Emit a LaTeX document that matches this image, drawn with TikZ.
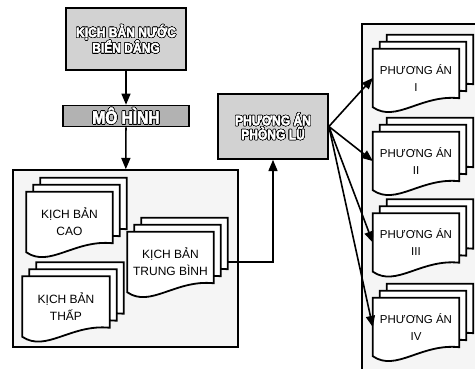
\documentclass[tikz,border=0pt]{standalone}
\usepackage{fontspec}
\setmainfont{Liberation Sans}
\newfontfamily\heavyfont[FakeBold=3,FakeStretch=0.86]{Liberation Sans Bold}
\usepackage{contour}
\contourlength{0.55pt}
\contournumber{24}
\usetikzlibrary{arrows}
\usetikzlibrary{calc,arrows.meta}
\pgfdeclarelayer{panel}
\pgfdeclarelayer{docs}
\pgfsetlayers{panel,docs,main}
% document outline, shifted up-right by #2
\newcommand{\docpath}[2]{($(#1.north west)+(#2,-#2)$) -- ($(#1.north east)+(#2,-#2)$) -- ($(#1.south east)+(#2,-#2-9)$) .. controls ($(#1.south)+(#2+5,-#2-13)$) and ($(#1.south)+(#2-20,-#2+16)$) .. ($(#1.south west)+(#2,-#2)$) -- cycle}
\newcommand{\docstack}[1]{\begin{pgfonlayer}{docs}\foreach \d in {14,7,0}{\filldraw[docline] \docpath{#1}{\d};}\end{pgfonlayer}}
\newcommand{\olt}[1]{\contour{black}{\textcolor{white}{#1}}}

\begin{document}
\begin{tikzpicture}[x=1pt,y=-1pt,line width=1.5pt,
	box/.style={draw,line width=1.8pt,inner sep=2pt,align=center,font=\fontsize{14}{15}\heavyfont},
	panel/.style={draw,fill=gray!8,line width=1.8pt},
	docline/.style={fill=white,draw=black,line width=1.8pt},
	doc/.style={minimum width=85,minimum height=59,inner sep=0pt,align=center,font=\fontsize{12}{17}\selectfont},
	pa/.style={doc,minimum width=86,minimum height=58,font=\fontsize{11.5}{17}\selectfont},
	conn/.style={line width=1.6pt,-triangle 45}]
\useasboundingbox (0,0) rectangle (475,368);

\node[box,fill=gray!35,minimum width=120,minimum height=62] (kb) at (126,39){\olt{KỊCH BẢN NƯỚC}\\[-1pt]\olt{BIỂN DÂNG}};
\node[box,fill=gray!60,minimum width=126,minimum height=20,font=\fontsize{18}{18}\heavyfont] (mh) at (126,116){\olt{MÔ HÌNH}};
\node[box,fill=gray!35,minimum width=110,minimum height=65] (pl) at (273,126.5){\olt{PHƯƠNG ÁN}\\[-1pt]\olt{PHÒNG LŨ}};

%scenarios
\node[doc] (cao) at (69.5,222){KỊCH BẢN\\CAO};
\node[doc,minimum width=86] (thap) at (66,306.5){KỊCH BẢN\\THẤP};
\node[doc] (tb) at (170.5,262){KỊCH BẢN\\TRUNG BÌNH};
\docstack{cao}
\docstack{thap}
\docstack{tb}

%options
\node[pa] (pa1) at (416,78){PHƯƠNG ÁN\\I};
\node[pa] (pa2) at (416,161){PHƯƠNG ÁN\\II};
\node[pa] (pa3) at (416,242.5){PHƯƠNG ÁN\\III};
\node[pa] (pa4) at (416,327){PHƯƠNG ÁN\\IV};
\docstack{pa1}
\docstack{pa2}
\docstack{pa3}
\docstack{pa4}

\begin{pgfonlayer}{panel}
\node[panel,minimum width=225,minimum height=177] (kbg) at (125.5,258.5){};
\node[panel,minimum width=120,minimum height=355] (pag) at (422,201.5){};
\draw[conn] (tb.east) -| (pl.south);
\end{pgfonlayer}

\draw[conn] (kb) -- (mh);
\draw[conn] (mh) -- (kbg);
\foreach \p in {pa1,pa2,pa3,pa4}
	\draw[conn] (pl.east) -- (\p.west);
\end{tikzpicture}
\end{document}
